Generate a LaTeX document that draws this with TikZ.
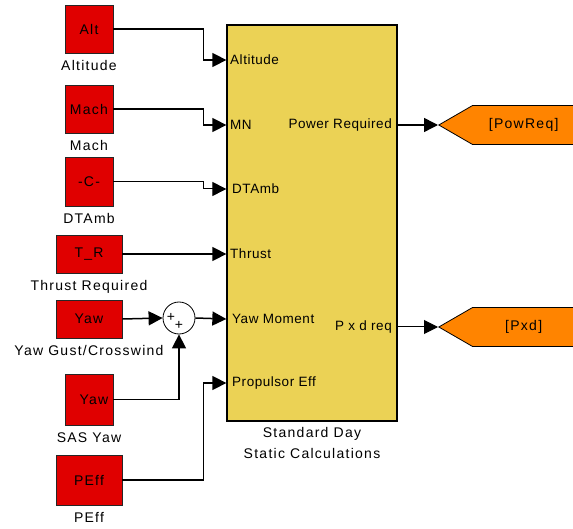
\documentclass[tikz,border=0pt]{standalone}
\usepackage{fontspec}
\setmainfont{Liberation Sans}
\newfontfamily\lblfont[LetterSpace=9]{Liberation Sans}
\newfontfamily\prtfont[LetterSpace=4]{Liberation Sans}
\usetikzlibrary{positioning,arrows.meta,shapes.symbols}
\usepackage{xcolor}
\definecolor{srcc}{RGB}{224,0,0}
\definecolor{subsc}{RGB}{235,210,85}
\definecolor{gotoc}{RGB}{255,132,0}
\tikzset{
  src/.style={draw=black!85, fill=srcc, line width=0.8pt, minimum width=48pt, minimum height=48pt, inner sep=0pt, font=\fontsize{14}{16}\lblfont},
  srcwide/.style={src, minimum width=66pt, minimum height=38pt},
  blkcap/.style={inner sep=1pt, align=center, font=\fontsize{14}{21}\lblfont},
  subsys/.style={draw=black, fill=subsc, line width=1.3pt, minimum width=170pt, minimum height=396pt, inner sep=0pt},
  port/.style={inner sep=0pt, font=\fontsize{13.5}{15}\prtfont},
  sumblk/.style={draw=black, fill=white, circle, minimum size=32pt, inner sep=0pt, line width=0.8pt},
  sgn/.style={inner sep=0pt, font=\fontsize{14}{14}\selectfont},
  goto/.style={draw=black, fill=gotoc, signal, signal to=west, signal from=nowhere, signal pointer angle=60, minimum width=136pt, minimum height=39pt, inner sep=0pt, line width=0.8pt, font=\fontsize{14}{16}\lblfont},
  sig/.style={-{Triangle[length=14pt,width=14pt]}, line width=1.5pt, black},
  thin sig/.style={sig, line width=1pt}
}

\begin{document}
\begin{tikzpicture}[x=1pt, y=-1pt, node distance=6pt and 6pt]
  \useasboundingbox (0,0) rectangle (573,529);
  \clip (0,0) rectangle (573,529);

  % ---- sources (left) ----
  \node[src] (alt) at (89,29) {Alt};
  \node[blkcap, below=of alt] (altcap) {Altitude};
  \node[src] (mach) at (89,109) {Mach};
  \node[blkcap, below=of mach] (machcap) {Mach};
  \node[src, minimum height=49pt] (dtamb) at (89,181.5) {-C-};
  \node[blkcap, below=of dtamb] (dtambcap) {DTAmb};
  \node[srcwide] (thr) at (89,254) {T\_R};
  \node[blkcap, below=of thr] (thrcap) {Thrust Required};
  \node[srcwide] (yawg) at (89,319) {Yaw};
  \node[blkcap, below=of yawg] (yawgcap) {Yaw Gust/Crosswind};
  \node[src, minimum height=51pt] (sasyaw) at (89,399.5) {\hspace*{10pt}Yaw};
  \node[blkcap, below=of sasyaw] (sasyawcap) {SAS Yaw};
  \node[srcwide, minimum height=50pt] (peff) at (89,480) {PEff};
  \node[blkcap, below=of peff] (peffcap) {PEff};

  % ---- sum ----
  \node[sumblk] (sum) at (179,318) {};
  \node[sgn] (sgnA) at ([xshift=-8pt,yshift=1pt]sum.center) {+};
  \node[sgn] (sgnB) at ([yshift=-7pt]sum.center) {+};

  % ---- subsystem ----
  \node[subsys] (main) at (312,223) {};
  \node[blkcap, below=5pt of main] (maincap) {Standard Day\\Static Calculations};
  \node[port, anchor=west] (pAlt) at (230,60) {Altitude};
  \node[port, anchor=west] (pMN) at (230,125) {MN};
  \node[port, anchor=west] (pDT) at (232,189) {DTAmb};
  \node[port, anchor=west] (pThr) at (230,254) {Thrust};
  \node[port, anchor=west] (pYaw) at (232,319) {Yaw Moment};
  \node[port, anchor=west] (pProp) at (232,383) {Propulsor Eff};
  \node[port, anchor=east] (oPow) at (392,125) {Power Required};
  \node[port, anchor=east] (oPxd) at (392,327) {P x d req};

  % ---- goto tags ----
  \node[goto, anchor=west] (powreq) at (438,125) {[PowReq]};
  \node[goto, anchor=west] (pxd) at (438,327) {[Pxd]};

  % flows
  \draw[sig] (alt.east) -- ++(90,0) |- (main.west |- pAlt);
  \draw[sig] (mach.east) -- ++(90,0) |- (main.west |- pMN);
  \draw[thin sig] (dtamb.east) -- ++(90,0) |- (main.west |- pDT);
  \draw[sig] (thr.east) -- (main.west |- pThr);
  \draw[sig] (yawg.east) -- (sum.west);
  \draw[sig] (sasyaw.east) -| (sum.south);
  \draw[sig] (sum.east) -- (main.west |- pYaw);
  \draw[sig] (peff.east) -- ++(81,0) |- (main.west |- pProp);
  \draw[sig] (main.east |- oPow) -- (powreq.west);
  \draw[thin sig] (main.east |- oPxd) -- (pxd.west);
\end{tikzpicture}
\end{document}
